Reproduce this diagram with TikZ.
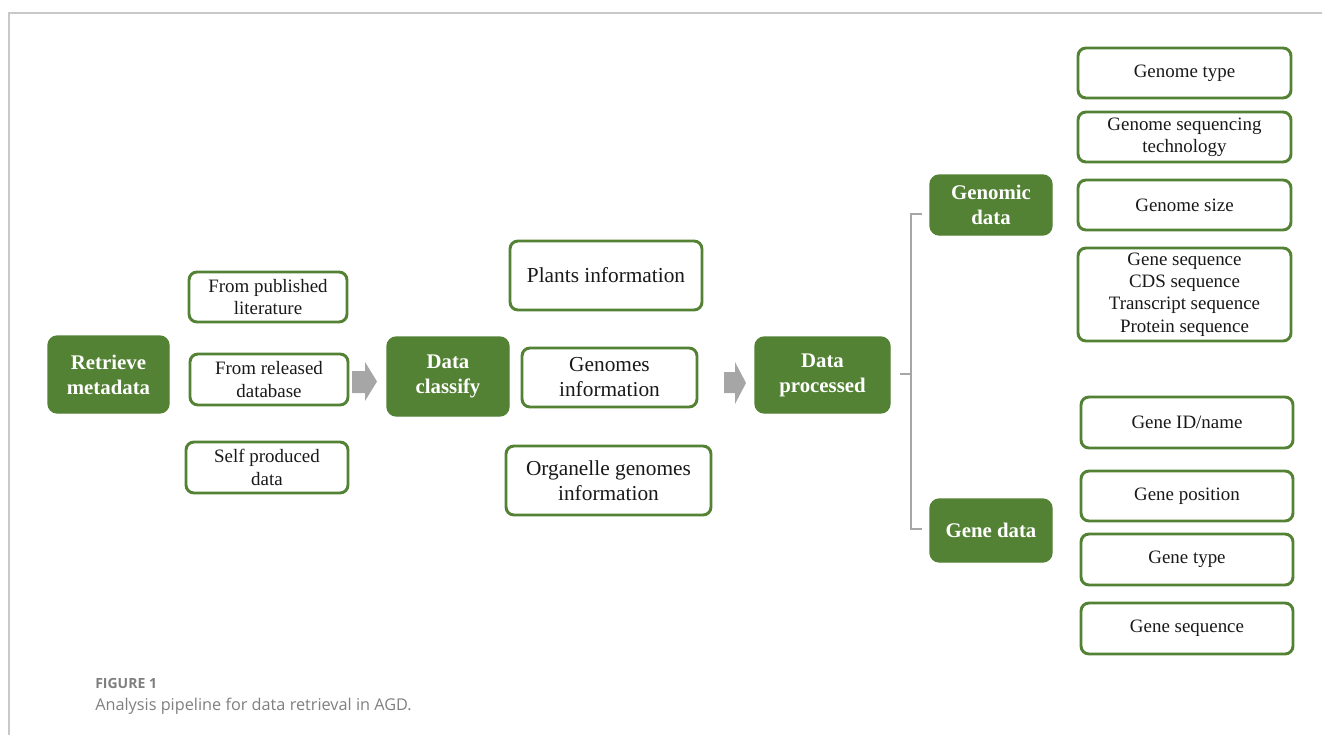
\documentclass[tikz,border=0pt]{standalone}
\usepackage{fontspec}
\setmainfont{Liberation Serif}
\newfontfamily\capfont{Open Sans}
\definecolor{gr}{HTML}{548235}
\definecolor{arr}{HTML}{A6A6A6}
\definecolor{frm}{HTML}{C8C8C8}
\definecolor{capgray}{HTML}{7F7F7F}
\begin{document}
\begin{tikzpicture}[x=0.75pt,y=-0.75pt,
  sz/.style 2 args={minimum width=#1*0.75pt, minimum height=#2*0.75pt},
  wbox/.style={draw=gr, line width=2.2pt, rounded corners=6pt, fill=white, inner sep=0pt, align=center,
     font=\fontsize{14.2}{16.8}\selectfont, text=black!90},
  wbig/.style={wbox, font=\fontsize{16}{18.8}\selectfont},
  gbox/.style={fill=gr, draw=gr, line width=1pt, rounded corners=7pt, inner sep=0pt, align=center,
     text=white, font=\fontsize{15.6}{18.8}\selectfont\bfseries},
  bracket/.style={draw=arr, line width=2.2pt},
  blockarrow/.style={fill=arr, draw=none}]
\useasboundingbox (0,0) rectangle (1322,735);
% frame
\draw[frm, line width=1.2pt] (1322,13) -- (9,13) -- (9,735);
% left column
\node[gbox, sz={121}{77}] (rm) at (108.5,374.5) {Retrieve\\metadata};
\node[wbox, sz={158}{50}] (pub) at (268,297) {From published\\literature};
\node[wbox, sz={158}{51}] (rel) at (269,379.5) {From released\\database};
\node[wbox, sz={162}{51}] (self) at (267,467.5) {Self produced\\data};
% arrow 1
\fill[blockarrow] (352,371) -- (365,371) -- (365,362) -- (377,381.5) -- (365,401) -- (365,393) -- (352,393) -- cycle;
\node[gbox, sz={122}{79}] (dc) at (448,376.5) {Data\\classify};
\node[wbig, sz={192}{69}] (pl) at (606,275.5) {Plants information};
\node[wbig, sz={175}{59}] (gi) at (609.5,377.5) {Genomes\\information};
\node[wbig, sz={205}{69}] (og) at (608.5,480.5) {Organelle genomes\\information};
% arrow 2
\fill[blockarrow] (724,372) -- (735,372) -- (735,362) -- (746,383) -- (735,404) -- (735,393) -- (724,393) -- cycle;
\node[gbox, sz={135}{76}] (dp) at (822.5,375) {Data\\processed};
% bracket
\coordinate (bm) at (900,374);
\coordinate (bv) at (911,374);
\coordinate (bt) at (922,214);
\coordinate (bb) at (922,529);
\draw[bracket] (bm) -- (bv);
\draw[bracket] (bt) -- (911,214) -- (911,529) -- (bb);
\node[gbox, sz={122}{60}] (gd) at (991,205) {Genomic\\data};
\node[gbox, sz={122}{63}] (ge) at (991,530.5) {Gene data};
% right boxes
\node[wbox, sz={213}{50}] (r1) at (1184.5,73) {Genome type};
\node[wbox, sz={213}{50}] (r2) at (1184.5,137) {Genome sequencing\\technology};
\node[wbox, sz={213}{50}] (r3) at (1184.5,205) {Genome size};
\node[wbox, sz={213}{93}] (r4) at (1184.5,294.5) {Gene sequence\\CDS sequence\\Transcript sequence\\Protein sequence};
\node[wbox, sz={212}{51}] (s1) at (1187,422.5) {Gene ID/name};
\node[wbox, sz={212}{50}] (s2) at (1187,496) {Gene position};
\node[wbox, sz={212}{51}] (s3) at (1187,559.5) {Gene type};
\node[wbox, sz={212}{51}] (s4) at (1187,628.5) {Gene sequence};
% caption
\node[anchor=west, inner sep=0pt, text=capgray, font=\capfont\fontsize{10.5}{12}\selectfont\bfseries] (fig) at (95,683) {FIGURE 1};
\node[anchor=west, inner sep=0pt, text=capgray, font=\capfont\fontsize{12.2}{14}\selectfont] (cap) at (95,706) {Analysis pipeline for data retrieval in AGD.};
\end{tikzpicture}
\end{document}
